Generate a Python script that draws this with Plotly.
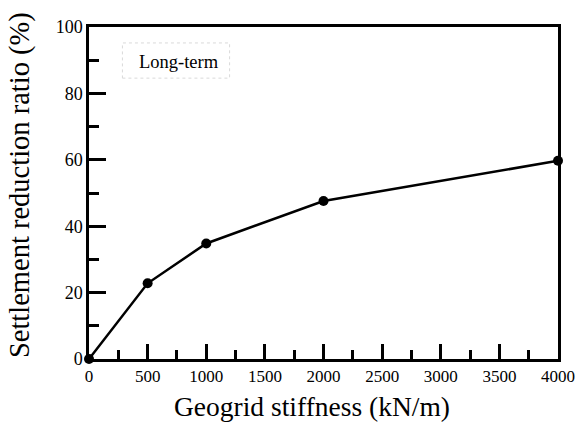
import plotly.graph_objects as go

stiffness = [0, 500, 1000, 2000, 4000]
reduction = [0, 22.8, 34.8, 47.6, 59.7]
x_ticks = [0, 500, 1000, 1500, 2000, 2500, 3000, 3500, 4000]
y_ticks = [0, 20, 40, 60, 80, 100]
label_text = "Long-term"
x_title = "Geogrid stiffness (kN/m)"
y_title = "Settlement reduction ratio (%)"

FONT = "Liberation Serif, Times New Roman, serif"

fig = go.Figure()
fig.add_trace(go.Scatter(
    x=stiffness, y=reduction, mode="lines+markers",
    line=dict(color="black", width=2.5),
    marker=dict(color="black", size=10),
    cliponaxis=False, showlegend=False,
))

fig.add_shape(type="rect", x0=285, x1=1199, y0=84.6, y1=95.2,
              xref="x", yref="y",
              line=dict(color="#d9d9d9", width=1, dash="dot"))
fig.add_annotation(x=411, y=89.5, xref="x", yref="y", text=label_text,
                   showarrow=False, xanchor="left", yanchor="middle",
                   font=dict(family=FONT, size=18.5, color="black"))

# axis titles
fig.add_annotation(x=0.476, y=-0.143, xref="paper", yref="paper", text=x_title,
                   showarrow=False, xanchor="center", yanchor="middle",
                   font=dict(family=FONT, size=27.5, color="black"))
fig.add_annotation(x=-0.147, y=0.524, xref="paper", yref="paper", text=y_title,
                   showarrow=False, xanchor="center", yanchor="middle", textangle=-90,
                   font=dict(family=FONT, size=28.5, color="black"))

axis_common = dict(
    showgrid=False, zeroline=False, showline=True, linecolor="black",
    linewidth=2.5, mirror=True, ticks="inside", tickwidth=2.5,
    tickcolor="black",
)

fig.update_xaxes(
    range=[0, 4000], tickvals=x_ticks, ticklen=15,
    tickfont=dict(family=FONT, size=17, color="black"),
    minor=dict(dtick=250, ticks="inside", ticklen=9, tickwidth=2.5, tickcolor="black"),
    **axis_common,
)
fig.update_yaxes(
    range=[0, 100], tickvals=y_ticks, ticklen=17,
    tickfont=dict(family=FONT, size=18, color="black"),
    minor=dict(dtick=10, ticks="inside", ticklen=10, tickwidth=2.5, tickcolor="black"),
    **axis_common,
)

fig.update_layout(
    width=587, height=423,
    margin=dict(l=89, r=21, t=27, b=64),
    paper_bgcolor="white", plot_bgcolor="white",
    font=dict(family=FONT, color="black"),
)

fig.write_html("out.html")
